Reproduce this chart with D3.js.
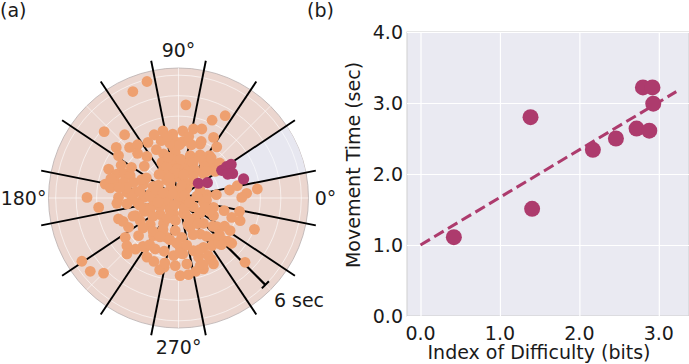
<!DOCTYPE html>
<html>
<head>
<meta charset="utf-8">
<script src="https://cdn.jsdelivr.net/npm/d3@7"></script>
<style>
  body { margin: 0; background: #fff; }
  svg { font-family: "DejaVu Sans", sans-serif; }
  text { fill: #1a1a1a; }
</style>
</head>
<body>
<svg width="689" height="364"></svg>
<script>
// (a) end points of each movement, as time vectors in seconds (x = t cos, y = t sin)
var orangePts = [
  [-1.54,5.69],[-2.23,5.20],[0.36,4.55],[1.64,3.80],[2.28,4.02],
  [-0.76,3.28],[0.21,3.28],[0.73,3.37],[1.14,3.37],[-3.63,3.24],
  [-2.63,3.09],[-1.19,3.09],[-0.28,3.12],[1.71,2.96],[-0.85,2.80],
  [-0.20,2.80],[0.21,2.76],[1.06,2.63],[1.87,2.50],[-3.04,2.47],
  [-2.39,2.47],[-2.00,2.60],[-0.24,2.47],[-2.93,2.07],[-2.00,2.18],
  [-1.54,2.03],[-0.73,2.15],[-0.16,2.23],[0.57,2.07],[1.06,2.11],
  [1.51,2.07],[-1.67,1.56],[-0.81,1.74],[-0.49,1.66],[-0.08,1.74],
  [0.33,1.66],[0.73,1.85],[1.22,1.82],[1.63,1.66],[-3.41,1.41],
  [-3.01,1.17],[-2.65,1.20],[-2.36,1.09],[-0.73,1.41],[-0.41,1.50],
  [-0.08,1.41],[0.33,1.41],[1.38,1.41],[1.79,1.30],[0.73,1.17],
  [-3.58,0.68],[-3.09,0.76],[-2.68,0.76],[-2.20,0.76],[-1.71,0.68],
  [-1.22,0.55],[-0.41,0.76],[0.24,0.85],[-3.33,0.49],[-2.52,0.28],
  [-2.11,0.28],[-1.38,0.20],[-0.24,0.36],[2.49,0.39],[3.33,0.23],
  [3.85,0.44],[-4.47,0.03],[-2.93,0.03],[-2.28,0.07],[-1.71,0.03],
  [-1.06,0.03],[-0.49,0.00],[1.38,0.16],[3.09,0.03],[-3.90,-0.46],
  [-3.01,-0.26],[-2.52,-0.29],[-2.03,-0.21],[-1.54,-0.49],[-1.22,-0.33],
  [-0.49,-0.33],[0.16,-0.29],[1.22,-0.21],[1.71,-0.46],[-2.93,-1.02],
  [-2.11,-0.86],[-1.67,-0.65],[-0.89,-0.81],[-0.24,-0.78],[0.33,-0.78],
  [1.06,-0.70],[1.71,-0.86],[2.23,-0.62],[2.98,-0.65],[3.01,-1.11],
  [-2.44,-1.43],[-1.87,-1.11],[-1.38,-1.30],[-0.73,-1.24],[-0.16,-1.59],
  [0.57,-1.43],[1.22,-1.24],[1.87,-1.40],[2.52,-1.59],[3.71,-1.53],
  [2.60,-2.21],[-2.60,-1.92],[-1.95,-1.84],[-1.22,-1.84],[-0.57,-1.92],
  [0.16,-1.92],[1.06,-1.76],[1.71,-2.00],[2.20,-2.08],[-2.52,-2.33],
  [-1.63,-2.41],[-1.14,-2.49],[-0.70,-2.60],[0.08,-2.41],[0.73,-2.57],
  [1.22,-2.41],[1.63,-2.33],[1.95,-2.21],[-2.52,-2.73],[-1.54,-2.89],
  [-0.24,-2.81],[0.21,-2.73],[0.98,-2.89],[3.25,-3.14],[-0.70,-3.38],
  [-0.16,-3.30],[0.41,-3.22],[1.06,-3.30],[1.71,-3.22],[-4.72,-3.09],
  [-4.31,-3.58],[-3.66,-3.67],[0.08,-3.79],[0.49,-3.74],[0.85,-3.58],
  [1.22,-3.46],
  [-0.58,0.88],[-0.98,0.63],[-0.41,0.39],[0.40,0.47],[0.72,0.80],
  [1.05,0.39],[-0.66,-0.10],[0.40,-0.10],[0.72,-0.42],[-0.41,-0.59],
  [0.24,-0.75],[-0.90,-0.42],[-1.39,0.07],[0.00,0.06],[1.05,-0.75],
  [1.37,-0.10],[-1.39,-0.59],[-1.23,0.55],[-0.09,1.04],[0.56,1.28],
  [-0.58,1.53],[1.21,1.20],
  [-1.49,2.72],[-1.08,2.36],[-0.43,2.68],[-1.57,0.98],[-2.54,0.49],
  [-1.89,0.33],[-1.08,0.41],[-0.60,1.10],[-0.30,1.90],[-0.50,2.00],
  [0.10,1.90],[0.45,1.30],[-0.20,1.20],
  [1.11,2.76],[0.63,2.60],[1.60,1.95],[0.71,1.71],[1.28,1.54],
  [2.01,1.71],[0.79,1.38],[1.36,1.30],[0.71,1.06],[0.30,0.73],
  [0.22,0.33],[2.87,0.60],[1.85,0.16],
  [-2.71,-1.14],[-2.22,-0.89],[-1.73,-2.36],[-1.41,-2.28],[-0.92,-3.50],
  [-0.67,-3.17],[-0.76,-1.54],[-1.24,-1.63],[-0.43,-2.03],[-1.73,-1.46],
  [1.52,-0.65],[2.42,-2.11],[1.36,-1.87],[2.09,-2.28],[0.71,-1.79],
  [1.03,-2.52],[1.60,-3.00],[1.20,-3.25],[0.46,-1.30],[0.79,-0.98],
  [0.30,-0.49],[1.68,-1.38],[2.25,-1.38],[0.06,-2.68],
  [-0.30,0.20],[0.30,0.15],[-0.20,-0.35],[0.55,-0.20],[-0.75,0.25],
  [0.15,0.60],[-0.45,1.00],[0.25,1.15],[0.90,0.10],[-1.00,-0.20],
  [-0.15,-1.10],[0.55,-1.05],[-0.55,-1.00],[1.30,-0.45],[-1.25,-0.90],
  [-1.90,-0.35],[-1.80,0.90],[-2.30,1.50],[-2.80,1.60],[-0.95,1.15],
  [0.05,2.60],[-0.55,3.00],[0.50,3.00],[-3.30,0.95],[-2.90,0.50],
  [-0.90,-1.90],[-0.10,-2.20],[0.40,-2.30],[1.45,-2.80],[-1.20,-3.10],
  [-2.10,-2.50],[2.60,-0.95],[2.00,-1.80],[0.95,-1.25]
];
var purplePts = [
  [0.97,0.72],[1.41,0.75],[2.11,1.35],[2.35,1.53],[2.57,1.64],
  [2.40,1.17],[2.64,1.20],[3.18,0.93]
];
var targetAngles = [11.25, 33.75, 56.25, 78.75, 101.25, 123.75, 146.25, 168.75,
                    191.25, 213.75, 236.25, 258.75, 281.25, 303.75, 326.25, 348.75];
var activeSector = [11.25, 33.75];
var ringSecs = [1, 2, 3, 4, 5, 6];
var thetaLabels = [0, 90, 180, 270];
var scaleBar = {sec: 6, angle: -45};

// (b) index of difficulty vs movement time
var idBits = [0.42, 1.385, 1.405, 2.17, 2.46, 2.72, 2.88, 2.80, 2.92, 2.93];
var mtSecs = [1.11, 2.80, 1.51, 2.34, 2.50, 2.64, 2.61, 3.22, 3.22, 2.99];
var fitX = [0, 3.22];
var fitY = [1.0, 3.16];
var xTicks = [0, 1, 2, 3];
var yTicks = [0, 1, 2, 3, 4];

var orange = "#eea070", purple = "#ad3b6d";
var fs = "19px";
var svg = d3.select("svg");
var rad = Math.PI / 180;

// ---------- panel (a): polar ----------
var cx = 178.5, cy = 198, R = 130, rMax = 6.35;
var r = d3.scaleLinear().domain([0, rMax]).range([0, R]);
var px = d3.scaleLinear().domain([-rMax, rMax]).range([cx - R, cx + R]),
    py = d3.scaleLinear().domain([-rMax, rMax]).range([cy + R, cy - R]);

var pa = svg.append("g");
var polar = pa.append("g").attr("transform", "translate(" + cx + "," + cy + ")");

polar.append("circle").attr("r", R).attr("fill", "#ebd6cf")
    .attr("stroke", "#b9b0b0").attr("stroke-width", 0.8);

polar.append("path")
    .attr("d", d3.arc().innerRadius(0).outerRadius(R)
      .startAngle((90 - activeSector[1]) * rad)
      .endAngle((90 - activeSector[0]) * rad)())
    .attr("fill", "#e7e7f0");

polar.selectAll(".ring").data(ringSecs).enter().append("circle")
    .attr("r", function(d) { return r(d); })
    .attr("fill", "none").attr("stroke", "#fff").attr("stroke-opacity", 0.65)
    .attr("stroke-width", 0.9);

polar.selectAll(".rgrid").data([0, 45, 90, 135, 180, 225, 270, 315]).enter().append("line")
    .attr("x2", function(d) { return R * Math.cos(d * rad); })
    .attr("y2", function(d) { return -R * Math.sin(d * rad); })
    .attr("stroke", "#fff").attr("stroke-opacity", 0.65).attr("stroke-width", 0.9);

pa.selectAll(".pt-o").data(orangePts).enter().append("circle")
    .attr("cx", function(d) { return px(d[0]); })
    .attr("cy", function(d) { return py(d[1]); })
    .attr("r", 5.4).attr("fill", orange);

polar.selectAll(".spoke").data(targetAngles).enter().append("line")
    .attr("x1", function(d) { return 6 * Math.cos(d * rad); })
    .attr("y1", function(d) { return -6 * Math.sin(d * rad); })
    .attr("x2", function(d) { return 140 * Math.cos(d * rad); })
    .attr("y2", function(d) { return -140 * Math.sin(d * rad); })
    .attr("stroke", "#000").attr("stroke-width", 1.9);

polar.append("circle").attr("r", 6).attr("fill", "none")
    .attr("stroke", "#000").attr("stroke-width", 1.2);

// 6 sec scale bar
var sb = polar.append("g").attr("transform", "rotate(" + (-scaleBar.angle) + ")");
sb.append("line").attr("x1", 0).attr("x2", r(scaleBar.sec))
    .attr("stroke", "#000").attr("stroke-width", 2.2);
sb.append("line").attr("x1", r(scaleBar.sec)).attr("x2", r(scaleBar.sec))
    .attr("y1", -5).attr("y2", 5).attr("stroke", "#000").attr("stroke-width", 2);

pa.selectAll(".pt-p").data(purplePts).enter().append("circle")
    .attr("cx", function(d) { return px(d[0]); })
    .attr("cy", function(d) { return py(d[1]); })
    .attr("r", 5.6).attr("fill", purple);

var labelR = {0: 147, 90: 148, 180: 155, 270: 149};
polar.selectAll(".tl").data(thetaLabels).enter().append("text")
    .attr("x", function(d) { return labelR[d] * Math.cos(d * rad); })
    .attr("y", function(d) { return -labelR[d] * Math.sin(d * rad); })
    .attr("text-anchor", "middle").attr("dy", "0.36em")
    .style("font-size", fs)
    .text(function(d) { return d + "°"; });

svg.append("text").attr("x", 299).attr("y", 307).attr("text-anchor", "middle")
    .style("font-size", fs).text(scaleBar.sec + " sec");

svg.append("text").attr("x", 0).attr("y", 17).style("font-size", fs).text("(a)");
svg.append("text").attr("x", 307).attr("y", 17).style("font-size", fs).text("(b)");

// ---------- panel (b): scatter ----------
var pL = 407, pR = 689, pT = 32, pB = 316;
var x = d3.scaleLinear().domain([-0.17, 3.38]).range([pL, pR]),
    y = d3.scaleLinear().domain([0, 4]).range([pB, pT]);

var g = svg.append("g");
g.append("rect").attr("x", pL).attr("y", pT)
    .attr("width", pR - pL).attr("height", pB - pT)
    .attr("fill", "#eaeaf2").attr("stroke", "#cfcfcf").attr("stroke-width", 1);

g.append("g")
    .attr("transform", "translate(0," + pB + ")")
    .call(d3.axisBottom(x).tickValues(xTicks).tickSize(-(pB - pT)).tickFormat(""))
    .call(function(s) { s.select(".domain").remove(); s.selectAll("line").attr("stroke", "#fff").attr("stroke-width", 1.2); });

g.append("g")
    .attr("transform", "translate(" + pL + ",0)")
    .call(d3.axisLeft(y).tickValues(yTicks).tickSize(-(pR - pL)).tickFormat(""))
    .call(function(s) { s.select(".domain").remove(); s.selectAll("line").attr("stroke", "#fff").attr("stroke-width", 1.2); });

g.selectAll(".xl").data(xTicks).enter().append("text")
    .attr("x", function(d) { return x(d); }).attr("y", 340)
    .attr("text-anchor", "middle").style("font-size", fs)
    .text(function(d) { return d.toFixed(1); });

g.selectAll(".yl").data(yTicks).enter().append("text")
    .attr("x", 403).attr("y", function(d) { return y(d); })
    .attr("dy", "0.36em").attr("text-anchor", "end").style("font-size", fs)
    .text(function(d) { return d.toFixed(1); });

g.append("path")
    .attr("d", d3.line().x(function(d) { return x(d[0]); }).y(function(d) { return y(d[1]); })(d3.zip(fitX, fitY)))
    .attr("fill", "none").attr("stroke", purple).attr("stroke-width", 3)
    .attr("stroke-dasharray", "11,5");

g.selectAll(".dot").data(d3.zip(idBits, mtSecs)).enter().append("circle")
    .attr("cx", function(d) { return x(d[0]); })
    .attr("cy", function(d) { return y(d[1]); })
    .attr("r", 8).attr("fill", purple);

g.append("text").attr("x", 539).attr("y", 359).attr("text-anchor", "middle")
    .style("font-size", fs).text("Index of Difficulty (bits)");

g.append("text").attr("transform", "translate(353,165) rotate(-90)")
    .attr("text-anchor", "middle").attr("dy", "0.36em")
    .style("font-size", fs).text("Movement Time (sec)");
</script>
</body>
</html>
